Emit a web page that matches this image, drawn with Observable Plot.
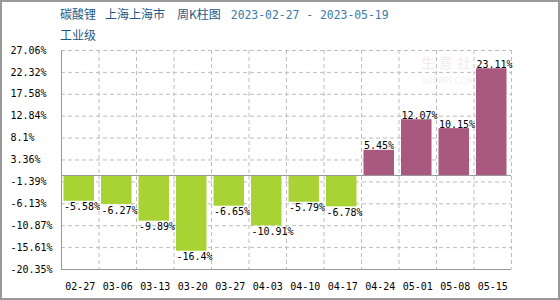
<!DOCTYPE html>
<html>
<head>
<meta charset="utf-8">
<script src="https://cdn.jsdelivr.net/npm/d3@7"></script>
<script src="https://cdn.jsdelivr.net/npm/@observablehq/plot@0.6"></script>
<style>
  html, body { margin: 0; padding: 0; background: #fff; }
  #wrap { position: relative; width: 560px; height: 300px; overflow: hidden; background: #fff; }
  #border { position: absolute; left: 0; top: 0; width: 560px; height: 300px; box-sizing: border-box; border: 2px solid #999; pointer-events: none; }
  #title { position: absolute; left: 60px; top: 7px; white-space: nowrap; font-family: "Noto Sans CJK SC", sans-serif; font-size: 12px; line-height: 14px; color: #1d5a85; }
  #title .gap { display: inline-block; width: 9px; }
  #title .gap2 { display: inline-block; width: 12px; }
  #title .date { font-family: "DejaVu Sans Mono", monospace; font-size: 11.4px; color: #3a7aa8; margin-left: 10px; }
  #sub { position: absolute; left: 60px; top: 28px; font-family: "Noto Sans CJK SC", sans-serif; font-size: 12px; line-height: 14px; color: #1d5a85; }
  #wm1 { position: absolute; left: 421px; top: 54px; font-family: "Noto Sans CJK SC", sans-serif; font-size: 14px; line-height: 16px; color: #f4eaea; }
  #wm1 span { margin-right: 4px; }
  #wm2 { position: absolute; left: 421px; top: 76px; font-family: "DejaVu Sans", sans-serif; font-size: 9px; line-height: 10px; color: #f1f1f1; }
  #chart { position: absolute; left: 0; top: 42px; }
</style>
</head>
<body>
<div id="wrap">
  <div id="wm1"><span>生</span><span>意</span>社</div>
  <div id="wm2">100PPI.COM</div>
  <div id="chart"></div>
  <div id="title">碳酸锂<span class="gap"></span>上海上海市<span class="gap2"></span>周K柱图<span class="date">2023-02-27 - 2023-05-19</span></div>
  <div id="sub">工业级</div>
  <div id="border"></div>
</div>
<script>
const categories = ["02-27","03-06","03-13","03-20","03-27","04-03","04-10","04-17","04-24","05-01","05-08","05-15"];
const values = [-5.58, -6.27, -9.89, -16.4, -6.65, -10.91, -5.79, -6.78, 5.45, 12.07, 10.15, 23.11];
const yTicks = [27.06, 22.32, 17.58, 12.84, 8.1, 3.36, -1.39, -6.13, -10.87, -15.61, -20.35];

const data = categories.map((c, i) => ({cat: c, v: values[i]}));
const pos = data.filter(d => d.v >= 0);
const neg = data.filter(d => d.v < 0);

const W = 560, H = 256;
const mL = 61, mR = 49, mT = 8, mB = 29;
const bw = (W - mL - mR) / categories.length;
const green = "#a9d334", purple = "#a9587f", gridC = "#bdbdbd", axisC = "#999";
const fmt = d => d + "%";

const chart = Plot.plot({
  width: W, height: H,
  marginLeft: mL, marginRight: mR, marginTop: mT, marginBottom: mB,
  style: {fontFamily: "DejaVu Sans Mono, monospace", fontSize: "10px", color: "#000", background: "transparent", overflow: "visible"},
  x: {domain: categories, padding: 0, round: false, axis: null, label: null},
  y: {domain: [yTicks[yTicks.length - 1], yTicks[0]], axis: null, label: null},
  marks: [
    Plot.gridY(yTicks, {stroke: gridC, strokeOpacity: 1, strokeDasharray: "4,3"}),
    Plot.ruleX(categories, {x: d => d, dx: bw / 2, stroke: gridC, strokeOpacity: 1, strokeDasharray: "4,3"}),
    Plot.barY(data, {x: "cat", y: "v", fill: d => d.v < 0 ? green : purple, insetLeft: 2.5, insetRight: 4.5}),
    Plot.ruleY([0], {stroke: axisC}),
    Plot.ruleY([yTicks[yTicks.length - 1]], {stroke: axisC}),
    Plot.ruleX([categories[0]], {dx: -bw / 2, stroke: axisC}),
    Plot.text(neg, {x: "cat", y: "v", text: d => fmt(d.v), textAnchor: "start", lineAnchor: "top", dx: -bw / 2 + 2.5, dy: 2, fill: "#000"}),
    Plot.text(pos, {x: "cat", y: "v", text: d => fmt(d.v), textAnchor: "start", lineAnchor: "bottom", dx: -bw / 2 + 2.5, dy: -1, fill: "#000"}),
    Plot.axisY(yTicks, {tickSize: 0, tickPadding: 51, textAnchor: "start", tickFormat: fmt, fill: "#000", label: null}),
    Plot.axisX(categories, {tickSize: 0, tickPadding: 13, fill: "#000", label: null})
  ]
});
document.getElementById("chart").appendChild(chart);
</script>
</body>
</html>
